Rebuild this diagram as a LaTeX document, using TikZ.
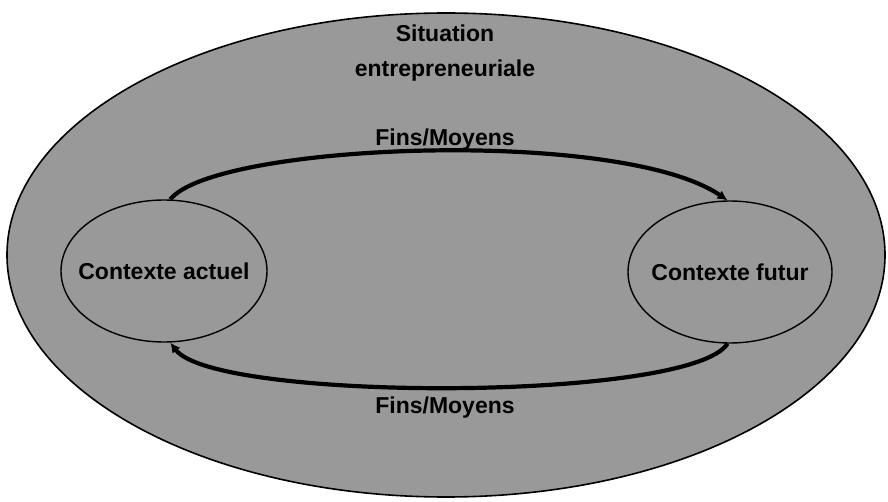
\documentclass[tikz,border=0pt]{standalone}
\usepackage{fontspec}
\setmainfont{Liberation Sans}
\usetikzlibrary{shapes.geometric,arrows.meta}
\begin{document}
\begin{tikzpicture}[x=1pt,y=1pt,
    every node/.style={font=\fontsize{23}{35}\selectfont\bfseries},
    contexte/.style={ellipse,draw,line width=1.4pt,inner sep=0pt},
    fleche/.style={line width=4.2pt,-{Latex[length=10pt,width=10pt]}}]
        \useasboundingbox (0,0) rectangle (888,501);
        \node[ellipse,draw,line width=1.6pt,fill=black!40,minimum width=878pt,minimum height=484pt] (situation) at (446,246) {};
        \node[align=center] (titre) at (445,448) {Situation\\entrepreneuriale};
        \node[contexte,minimum width=206pt,minimum height=142pt,label=center:{Contexte actuel}] (actuel) at (164,230) {};
        \node[contexte,minimum width=204pt,minimum height=142pt,label=center:{Contexte futur}] (futur) at (730,229) {};
        \draw[fleche] (actuel.85) .. controls (215,358) and (620,374) .. (futur.92);
        \draw[fleche] (futur.268) .. controls (690,99) and (215,99) .. (actuel.275);
        \node (fmhaut) at (445,361) {Fins/Moyens};
        \node (fmbas) at (445,93) {Fins/Moyens};
      \end{tikzpicture}
\end{document}
